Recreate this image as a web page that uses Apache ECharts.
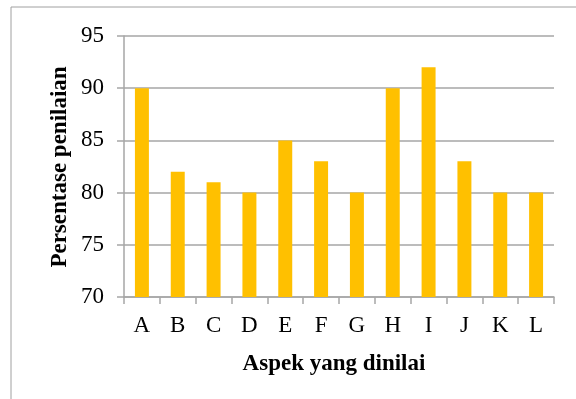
<!DOCTYPE html>
<html><head><meta charset="utf-8">
<script src="https://cdn.jsdelivr.net/npm/echarts@6/dist/echarts.min.js"></script>
<style>html,body{margin:0;padding:0;background:#fff}#c{width:576px;height:399px}</style>
</head><body><div id="c"></div>
<script>
const categories = ['A','B','C','D','E','F','G','H','I','J','K','L'];
const values = [90, 82, 81, 80, 85, 83, 80, 90, 92, 83, 80, 80];
const yTicks = {min: 70, max: 95, interval: 5};
const xTitle = 'Aspek yang dinilai';
const yTitle = 'Persentase penilaian';

const chart = echarts.init(document.getElementById('c'), null, {renderer: 'canvas'});
const font = '"Liberation Serif", "Times New Roman", serif';
chart.setOption({
  animation: false,
  backgroundColor: '#fff',
  grid: {left: 124, right: 22, top: 36, bottom: 102, containLabel: false},
  xAxis: {
    type: 'category', data: categories,
    axisLine: {lineStyle: {color: '#A6A6A6', width: 1.5}},
    axisTick: {show: true, length: 7, lineStyle: {color: '#A6A6A6', width: 1.5}},
    axisLabel: {color: '#000', fontFamily: font, fontSize: 23, margin: 17}
  },
  yAxis: {
    type: 'value', min: yTicks.min, max: yTicks.max, interval: yTicks.interval,
    axisLine: {show: true, lineStyle: {color: '#A6A6A6', width: 1.5}},
    axisTick: {show: true, length: 7, lineStyle: {color: '#A6A6A6', width: 1.5}},
    splitLine: {lineStyle: {color: '#A6A6A6', width: 1.5}},
    axisLabel: {color: '#000', fontFamily: font, fontSize: 23, margin: 20}
  },
  series: [{
    type: 'bar', data: values, barCategoryGap: '61%',
    itemStyle: {color: '#FFC000'}
  }],
  graphic: [
    {type: 'rect', shape: {x: 11, y: 7, width: 700, height: 600}, style: {fill: 'none', stroke: '#A0A0A0', lineWidth: 1}, z: -10, silent: true},
    {type: 'text', x: 334, y: 364, style: {text: xTitle, font: 'bold 23px ' + font, fill: '#000', textAlign: 'center', textVerticalAlign: 'middle'}},
    {type: 'text', x: 60, y: 167, rotation: Math.PI / 2, style: {text: yTitle, font: 'bold 23px ' + font, fill: '#000', textAlign: 'center', textVerticalAlign: 'middle'}}
  ]
});
</script></body></html>
